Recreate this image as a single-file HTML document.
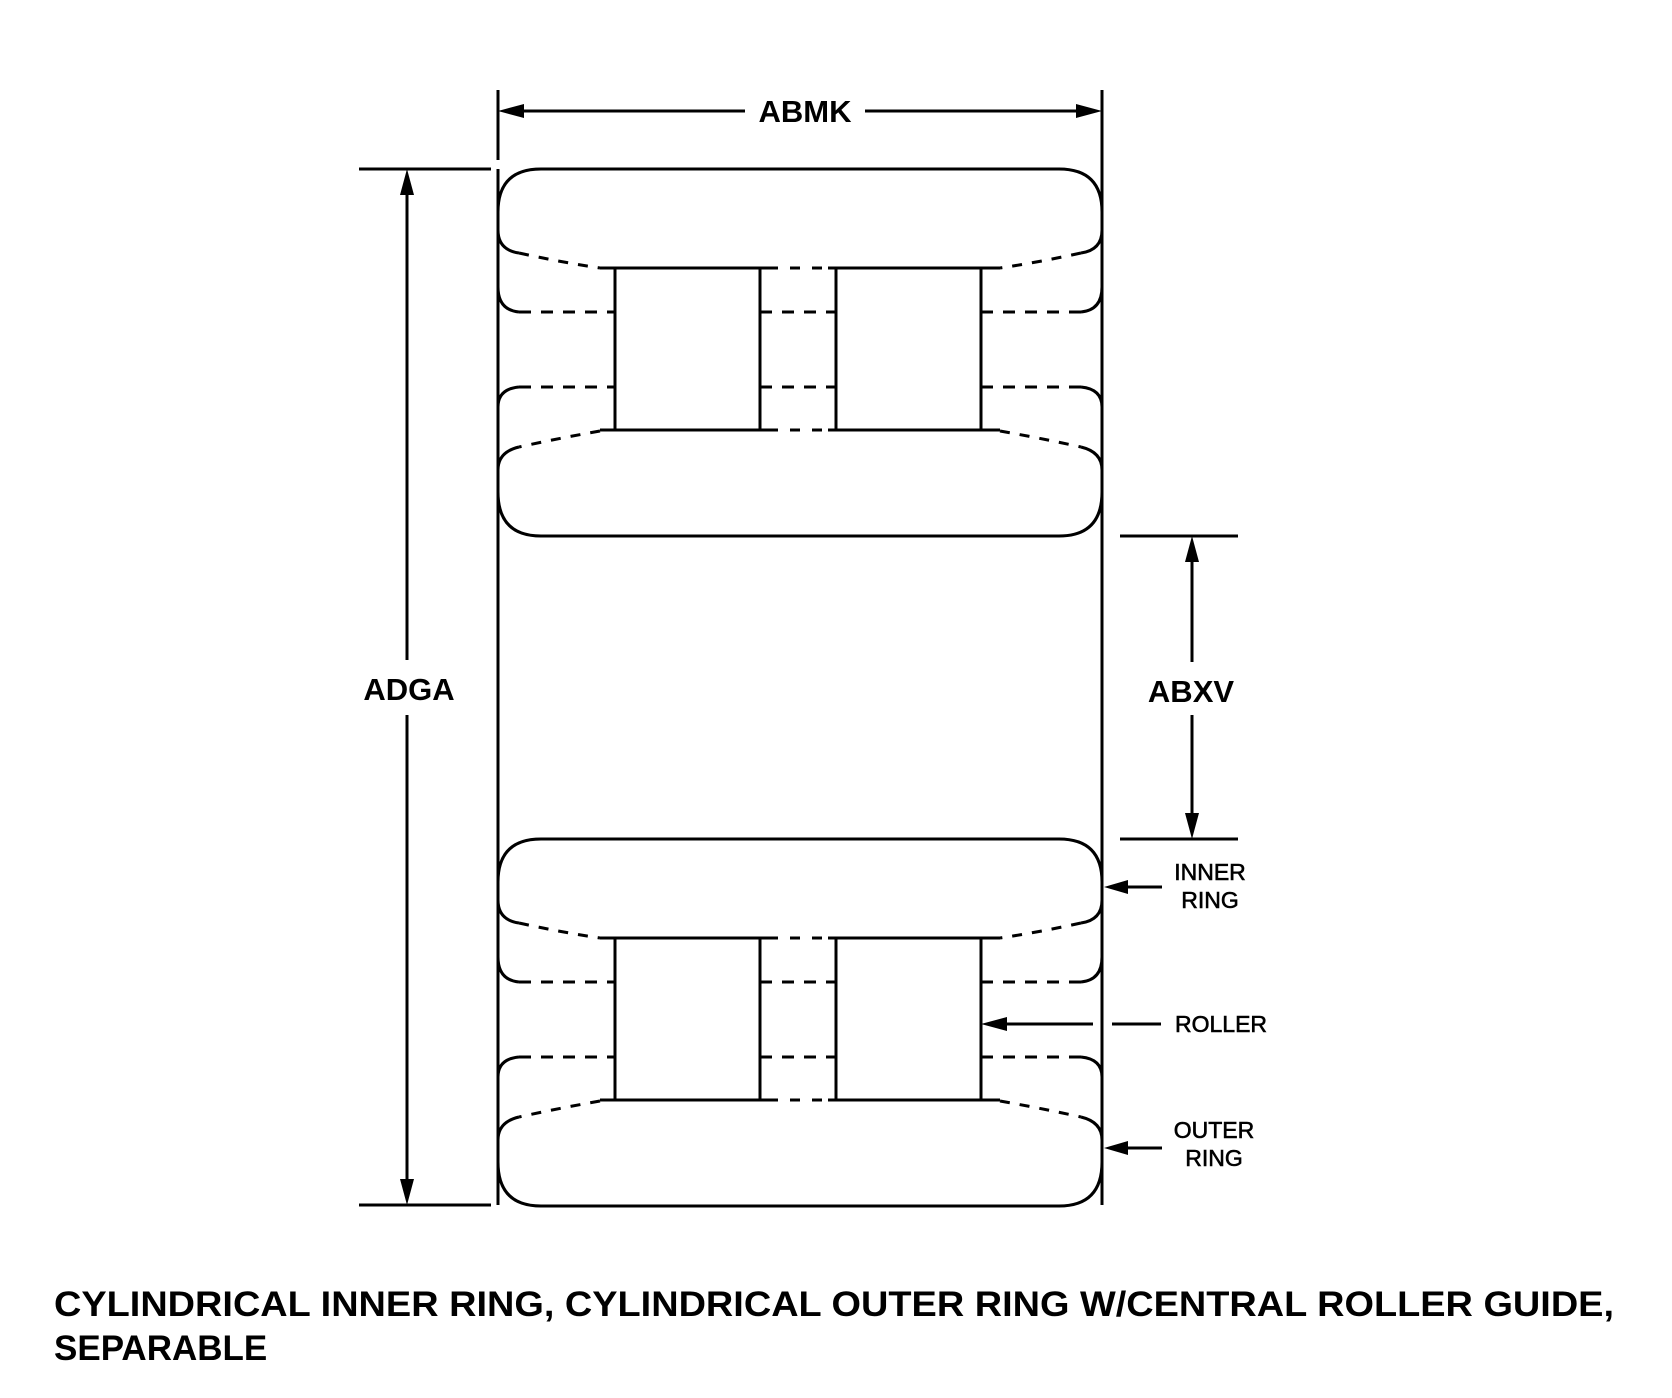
<!DOCTYPE html>
<html><head><meta charset="utf-8"><style>html,body{margin:0;padding:0;background:#fff}svg{display:block}</style></head>
<body>
<svg width="1672" height="1398" viewBox="0 0 1672 1398" xmlns="http://www.w3.org/2000/svg">
<defs>
<g id="sec" fill="none" stroke="#000" stroke-width="3">
  <path d="M498,212 Q498,169 541,169 L1059,169 Q1102,169 1102,212"/>
  <path d="M498,230 Q498,250 519,253"/>
  <path d="M1102,230 Q1102,250 1081,253"/>
  <path d="M519,253 Q560,262 600,268" stroke-dasharray="10,10"/>
  <path d="M1081,253 Q1040,262 1000,268" stroke-dasharray="10,10"/>
  <path d="M600,268 H768 M828,268 H1000"/>
  <path d="M768,268 H828" stroke-dasharray="10,12"/>
  <rect x="615" y="268" width="145" height="162"/>
  <rect x="836" y="268" width="145" height="162"/>
  <path d="M498,287 Q498,310 519,312 M1102,287 Q1102,310 1081,312"/>
  <path d="M519,312 H615 M760,312 H836 M981,312 H1081" stroke-dasharray="12,10"/>
  <path d="M498,407 Q498,389 519,387 M1102,407 Q1102,389 1081,387"/>
  <path d="M519,387 H615 M760,387 H836 M981,387 H1081" stroke-dasharray="12,10"/>
  <path d="M600,430 H768 M828,430 H1000"/>
  <path d="M768,430 H828" stroke-dasharray="10,12"/>
  <path d="M600,431 Q560,438 519,447" stroke-dasharray="10,10"/>
  <path d="M1000,431 Q1040,438 1081,447" stroke-dasharray="10,10"/>
  <path d="M519,447 Q498,452 498,470 M1081,447 Q1102,452 1102,470"/>
  <path d="M498,492 Q498,536 541,536 L1059,536 Q1102,536 1102,492"/>
</g>
</defs>
<use href="#sec"/>
<use href="#sec" transform="translate(0,670)"/>
<g stroke="#000" stroke-width="3" fill="none">
  <line x1="498" y1="169" x2="498" y2="1205"/>
  <line x1="1102" y1="169" x2="1102" y2="1205"/>
  <line x1="498" y1="90" x2="498" y2="160"/>
  <line x1="1102" y1="90" x2="1102" y2="172"/>
  <line x1="520" y1="111" x2="745" y2="111"/>
  <line x1="865" y1="111" x2="1080" y2="111"/>
  <line x1="359" y1="169" x2="491" y2="169"/>
  <line x1="359" y1="1205" x2="491" y2="1205"/>
  <line x1="407" y1="190" x2="407" y2="660"/>
  <line x1="407" y1="715" x2="407" y2="1184"/>
  <line x1="1120" y1="536" x2="1238" y2="536"/>
  <line x1="1120" y1="839" x2="1238" y2="839"/>
  <line x1="1192" y1="557" x2="1192" y2="662"/>
  <line x1="1192" y1="715" x2="1192" y2="818"/>
  <line x1="1125" y1="887" x2="1162" y2="887"/>
  <line x1="1001" y1="1024" x2="1093" y2="1024"/>
  <line x1="1112" y1="1024" x2="1161" y2="1024"/>
  <line x1="1125" y1="1148" x2="1162" y2="1148"/>
</g>
<g fill="#000">
  <polygon points="498,111 524,104 524,118"/>
  <polygon points="1102,111 1076,104 1076,118"/>
  <polygon points="407,169 400,195 414,195"/>
  <polygon points="407,1205 400,1179 414,1179"/>
  <polygon points="1192,536 1185,562 1199,562"/>
  <polygon points="1192,839 1185,813 1199,813"/>
  <polygon points="1104,887 1128,880 1128,894"/>
  <polygon points="981,1024 1007,1017 1007,1031"/>
  <polygon points="1104,1148 1128,1141 1128,1155"/>
</g>
<g font-family="'Liberation Sans',Arial,sans-serif" fill="#000">
  <text x="805" y="122" font-size="31" font-weight="bold" text-anchor="middle">ABMK</text>
  <text x="409" y="700" font-size="31" font-weight="bold" text-anchor="middle">ADGA</text>
  <text x="1191" y="702" font-size="31" font-weight="bold" text-anchor="middle">ABXV</text>
  <g stroke="#000" stroke-width="0.6">
  <text x="1210" y="880" font-size="23" text-anchor="middle">INNER</text>
  <text x="1210" y="908" font-size="23" text-anchor="middle">RING</text>
  <text x="1175" y="1032" font-size="23">ROLLER</text>
  <text x="1214" y="1138" font-size="23" text-anchor="middle">OUTER</text>
  <text x="1214" y="1166" font-size="23" text-anchor="middle">RING</text>
  </g>
  <text x="54" y="1316" font-size="35" font-weight="bold" textLength="1560" lengthAdjust="spacingAndGlyphs">CYLINDRICAL INNER RING, CYLINDRICAL OUTER RING W/CENTRAL ROLLER GUIDE,</text>
  <text x="54" y="1360" font-size="35" font-weight="bold">SEPARABLE</text>
</g>
</svg>
</body></html>
